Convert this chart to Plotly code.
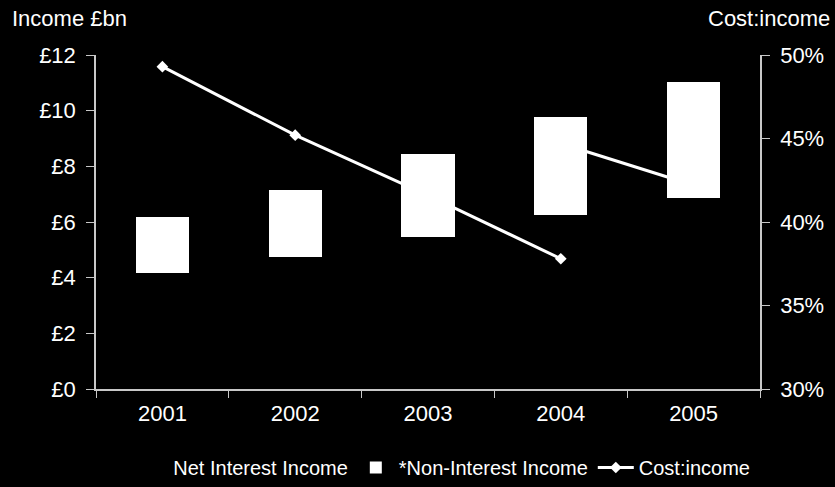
import plotly.graph_objects as go

# Income split (£bn) and cost:income ratio (%) by year
years = ["2001", "2002", "2003", "2004", "2005"]
net_interest_income = [4.15, 4.75, 5.46, 6.26, 6.86]
non_interest_income = [2.03, 2.41, 2.99, 3.51, 4.18]

# Cost:income on the old basis (2001-2004) and the restated basis (2004-2005)
ci_years_old = ["2001", "2002", "2003", "2004"]
ci_old = [49.3, 45.2, 41.6, 37.8]
ci_years_new = ["2004", "2005"]
ci_new = [44.7, 42.2]

FONT = "Liberation Sans, Arial, sans-serif"
AXIS = "#c8c8c8"

fig = go.Figure()
fig.add_trace(go.Bar(
    x=years, y=net_interest_income, name="Net Interest Income",
    marker=dict(color="black", line=dict(width=0)),
))
fig.add_trace(go.Bar(
    x=years, y=non_interest_income, name="*Non-Interest Income",
    marker=dict(color="white", line=dict(width=0)),
))
fig.add_trace(go.Scatter(
    x=ci_years_old, y=ci_old, name="Cost:income", yaxis="y2",
    mode="lines+markers", legendgroup="ci",
    line=dict(color="white", width=3),
    marker=dict(symbol="diamond", size=9, color="white"),
))
fig.add_trace(go.Scatter(
    x=ci_years_new, y=ci_new, name="Cost:income", yaxis="y2",
    mode="lines+markers", legendgroup="ci", showlegend=False,
    line=dict(color="white", width=3),
    marker=dict(symbol="diamond", size=9, color="white"),
))

fig.update_layout(
    width=835, height=487,
    margin=dict(l=96, r=75, t=55, b=98, autoexpand=False),
    paper_bgcolor="black", plot_bgcolor="black",
    font=dict(family=FONT, color="white", size=22),
    barmode="stack", bargap=0.6,
    xaxis=dict(
        type="category", showline=True, linecolor=AXIS, linewidth=1.5,
        ticks="outside", tickson="boundaries", ticklen=7, tickcolor=AXIS,
        showgrid=False, tickfont=dict(size=22), ticklabelstandoff=4,
    ),
    yaxis=dict(
        range=[0, 12], dtick=2, tickprefix="£", showgrid=False, zeroline=False,
        showline=True, linecolor=AXIS, linewidth=1.5,
        ticks="outside", ticklen=8, tickcolor=AXIS, tickfont=dict(size=22),
        ticklabelstandoff=6,
    ),
    yaxis2=dict(
        range=[30, 50], dtick=5, ticksuffix="%", overlaying="y", side="right",
        showgrid=False, zeroline=False, showline=True, linecolor=AXIS,
        linewidth=1.5, ticks="outside", ticklen=8, tickcolor=AXIS,
        tickfont=dict(size=22), ticklabelstandoff=6,
    ),
    legend=dict(
        orientation="h", x=0.52, xanchor="center", y=-0.235, yanchor="middle",
        font=dict(size=20), bgcolor="rgba(0,0,0,0)", itemwidth=36,
    ),
    annotations=[
        dict(text="Income £bn", xref="paper", yref="paper", x=-0.1295, y=1.11,
             xanchor="left", yanchor="middle", showarrow=False,
             font=dict(size=22)),
        dict(text="Cost:income", xref="paper", yref="paper", x=1.108, y=1.11,
             xanchor="right", yanchor="middle", showarrow=False,
             font=dict(size=22)),
    ],
)

fig.write_html("out.html")
